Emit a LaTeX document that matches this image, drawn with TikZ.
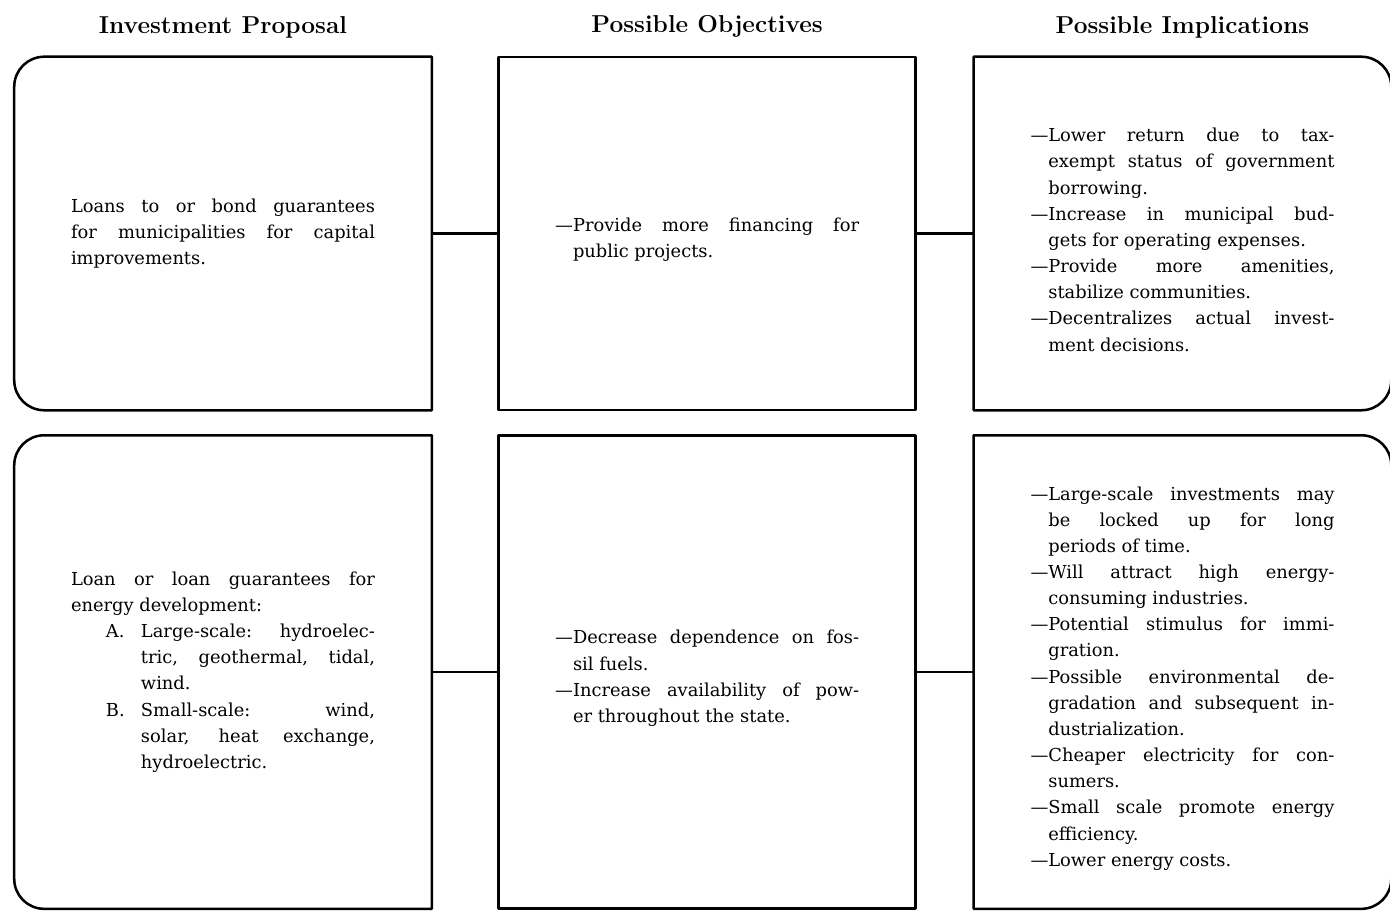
\documentclass[tikz,border=0pt]{standalone}
\usepackage{fontspec}
\newfontfamily\bodyfont{DejaVu Serif}
\usetikzlibrary{positioning}

\pretolerance=10000
\tolerance=10000
\hbadness=10000

% list entries inside the boxes
\newcommand{\dashitem}{\par\noindent\hangindent=1em\hangafter=1\textemdash}
\newcommand{\letitem}[1]{\par\noindent\hangindent=1.75cm\hangafter=0\llap{\makebox[0.875cm][l]{#1}}}

\begin{document}
\begin{tikzpicture}[
      node distance=0.625cm,
      panel/.style={rectangle, minimum width=10.425cm, text width=7.6cm, align=justify, inner sep=0pt, font=\bodyfont\fontsize{12.7}{18.6}\selectfont},
      toprow/.style={panel, minimum height=8.825cm},
      botrow/.style={panel, minimum height=11.825cm},
      head/.style={inner sep=0pt, font=\bfseries\fontsize{17.4}{20}\selectfont},
      frame/.style={draw, line width=1.8pt, line join=round},
      link/.style={draw, line width=1.8pt}
    ]
    \useasboundingbox (0,0) rectangle (34.75,22.775);

    % Top row
    \node[toprow] (propA) at (5.575,16.9375) {Loans to or bond guarantees\linebreak for municipalities for capital\linebreak improvements.\par};
    \node[toprow, frame, right=1.64cm of propA] (objA) {\dashitem Provide more financing for\linebreak public projects.\par};
    \node[toprow, right=1.42cm of objA] (implA) {%
      \dashitem Lower return due to tax-\linebreak exempt status of government\linebreak borrowing.
      \dashitem Increase in municipal bud-\linebreak gets for operating expenses.
      \dashitem Provide more amenities,\linebreak stabilize communities.
      \dashitem Decentralizes actual invest-\linebreak ment decisions.\par};

    % Bottom row
    \node[botrow, below=of propA] (propB) {%
      Loan or loan guarantees for\linebreak energy development:
      \letitem{A.}Large-scale: hydroelec-\linebreak tric, geothermal, tidal,\linebreak wind.
      \letitem{B.}Small-scale: wind,\linebreak solar, heat exchange,\linebreak hydroelectric.\par};
    \node[botrow, frame, right=1.64cm of propB] (objB) {%
      \dashitem Decrease dependence on fos-\linebreak sil fuels.
      \dashitem Increase availability of pow-\linebreak er throughout the state.\par};
    \node[botrow, right=1.42cm of objB] (implB) {%
      \dashitem Large-scale investments may\linebreak be locked up for long\linebreak periods of time.
      \dashitem Will attract high energy-\linebreak consuming industries.
      \dashitem Potential stimulus for immi-\linebreak gration.
      \dashitem Possible environmental de-\linebreak gradation and subsequent in-\linebreak dustrialization.
      \dashitem Cheaper electricity for con-\linebreak sumers.
      \dashitem Small scale promote energy\linebreak efficiency.
      \dashitem Lower energy costs.\par};

    % Column headings
    \node[head, above=0.45cm of propA] (hdProp) {Investment Proposal};
    \node[head, above=0.45cm of objA] (hdObj) {Possible Objectives};
    \node[head, above=0.45cm of implA] (hdImpl) {Possible Implications};

    % Frames, rounded on the outer side
    \draw[frame] (propA.north east) -- (propA.south east) -- ([xshift=0.75cm]propA.south west) arc[start angle=270, end angle=180, radius=0.75cm] -- ([yshift=-0.75cm]propA.north west) arc[start angle=180, end angle=90, radius=0.75cm] -- cycle;
    \draw[frame] (propB.north east) -- (propB.south east) -- ([xshift=0.75cm]propB.south west) arc[start angle=270, end angle=180, radius=0.75cm] -- ([yshift=-0.75cm]propB.north west) arc[start angle=180, end angle=90, radius=0.75cm] -- cycle;
    \draw[frame] (implA.north west) -- ([xshift=-0.75cm]implA.north east) arc[start angle=90, end angle=0, radius=0.75cm] -- ([yshift=0.75cm]implA.south east) arc[start angle=0, end angle=-90, radius=0.75cm] -- (implA.south west) -- cycle;
    \draw[frame] (implB.north west) -- ([xshift=-0.75cm]implB.north east) arc[start angle=90, end angle=0, radius=0.75cm] -- ([yshift=0.75cm]implB.south east) arc[start angle=0, end angle=-90, radius=0.75cm] -- (implB.south west) -- cycle;

    % Connections
    \draw[link] (propA) -- (objA);
    \draw[link] (objA) -- (implA);
    \draw[link] (propB) -- (objB);
    \draw[link] (objB) -- (implB);
  \end{tikzpicture}
\end{document}
